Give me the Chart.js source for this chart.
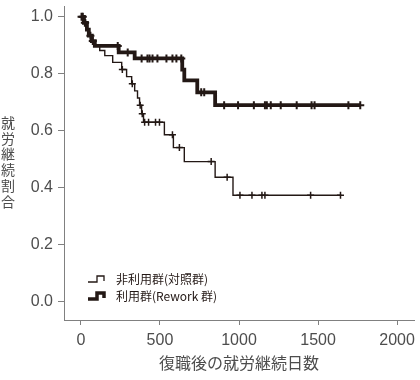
<!DOCTYPE html>
<html><head><meta charset="utf-8">
<script src="https://cdn.jsdelivr.net/npm/chart.js@4.4.1/dist/chart.umd.min.js"></script>
<style>html,body{margin:0;padding:0;background:#fff}#wrap{width:420px;height:380px}</style>
</head><body><div id="wrap"><canvas id="c" width="420" height="380"></canvas></div>
<script>
const xTicks = [0, 500, 1000, 1500, 2000];
const yTicks = [0, 0.2, 0.4, 0.6, 0.8, 1.0];
const seriesLabels = ['非利用群(対照群)', '利用群(Rework 群)'];
const xTitle = '復職後の就労継続日数';
const yTitle = '就労継続割合';

// Control (non-user) group: step points (day, survival after that day)
const controlDays = [0, 19, 38, 50, 69, 88, 119, 151, 201, 258, 289, 321, 340, 358, 371, 384, 396, 528, 585, 654, 849, 962, 1648];
const controlSurv = [1.0, 0.979, 0.955, 0.934, 0.915, 0.898, 0.882, 0.864, 0.84, 0.815, 0.79, 0.765, 0.74, 0.715, 0.69, 0.66, 0.63, 0.586, 0.541, 0.492, 0.437, 0.374, 0.374];
const controlCensorDays = [8, 30, 262, 325, 375, 388, 403, 428, 472, 497, 579, 623, 824, 925, 1006, 1082, 1145, 1164, 1453, 1642];
const controlCensorSurv = [1.0, 0.979, 0.815, 0.765, 0.69, 0.66, 0.63, 0.63, 0.63, 0.63, 0.586, 0.541, 0.492, 0.437, 0.374, 0.374, 0.374, 0.374, 0.374, 0.374];

// Rework (user) group
const reworkDays = [0, 19, 38, 50, 69, 88, 239, 340, 641, 654, 736, 849, 1767];
const reworkSurv = [1.0, 0.979, 0.955, 0.934, 0.915, 0.898, 0.875, 0.854, 0.815, 0.777, 0.735, 0.69, 0.69];
const reworkCensorDays = [4, 12, 25, 60, 75, 233, 296, 384, 421, 434, 453, 484, 541, 579, 604, 635, 761, 780, 906, 994, 1094, 1164, 1176, 1201, 1264, 1365, 1459, 1478, 1692, 1767];
const reworkCensorSurv = [1.0, 1.0, 0.979, 0.934, 0.915, 0.898, 0.875, 0.854, 0.854, 0.854, 0.854, 0.854, 0.854, 0.854, 0.854, 0.854, 0.735, 0.735, 0.69, 0.69, 0.69, 0.69, 0.69, 0.69, 0.69, 0.69, 0.69, 0.69, 0.69, 0.69];

const INK = '#231815';
const GREY = '#4d4d4d';
const AXIS = '#808080';

const pts = (xs, ys) => xs.map((x, i) => ({x: x, y: ys[i]}));

const legendPlugin = {
  id: 'kmLegend',
  afterDraw(chart) {
    const ctx = chart.ctx;
    ctx.save();
    const rows = [{y: 279, w: 1.3, label: chart.data.datasets[0].label},
                  {y: 296, w: 3.5, label: chart.data.datasets[1].label}];
    rows.forEach(r => {
      ctx.strokeStyle = INK; ctx.lineWidth = r.w; ctx.lineJoin = 'miter'; ctx.lineCap = 'butt';
      ctx.beginPath();
      ctx.moveTo(88, r.y + 3); ctx.lineTo(97, r.y + 3); ctx.lineTo(97, r.y - 3);
      ctx.lineTo(104, r.y - 3); ctx.lineTo(104, r.y + 2);
      ctx.stroke();
      ctx.fillStyle = INK; ctx.font = '12px "Noto Sans CJK JP"';
      ctx.textBaseline = 'middle'; ctx.textAlign = 'left';
      ctx.fillText(r.label, 116, r.y);
    });
    // vertical y title, upright stacked characters
    const ca = chart.chartArea;
    const chars = Array.from(yTitle);
    const step = 15.7;
    const cy = (ca.top + ca.bottom) / 2 - 1;
    ctx.fillStyle = GREY; ctx.font = '14px "Noto Sans CJK JP"';
    ctx.textAlign = 'center'; ctx.textBaseline = 'middle';
    chars.forEach((ch, i) => ctx.fillText(ch, 8, cy + (i - (chars.length - 1) / 2) * step));
    ctx.restore();
  }
};

new Chart(document.getElementById('c'), {
  type: 'scatter',
  data: {
    datasets: [
      {label: seriesLabels[0], data: pts(controlDays, controlSurv), showLine: true, stepped: 'before',
       borderColor: INK, borderWidth: 1.4, pointRadius: 0, fill: false, order: 4},
      {label: seriesLabels[1], data: pts(reworkDays, reworkSurv), showLine: true, stepped: 'before',
       borderColor: INK, borderWidth: 3.8, pointRadius: 0, fill: false, order: 3},
      {label: 'c0', data: pts(controlCensorDays, controlCensorSurv), showLine: false, pointStyle: 'cross',
       pointRadius: 3.5, borderColor: INK, borderWidth: 1.5, order: 2},
      {label: 'c1', data: pts(reworkCensorDays, reworkCensorSurv), showLine: false, pointStyle: 'cross',
       pointRadius: 4, borderColor: INK, borderWidth: 2, order: 1}
    ]
  },
  options: {
    responsive: false, devicePixelRatio: 1, animation: false,
    layout: {padding: {left: 31, right: 4, top: 3, bottom: 5}},
    plugins: {legend: {display: false}, tooltip: {enabled: false}},
    scales: {
      x: {
        type: 'linear', min: -107, max: 2107,
        afterBuildTicks: (axis) => { axis.ticks = xTicks.map(v => ({value: v})); },
        afterFit: (s) => { s.height = 55; s.paddingLeft = 0; s.paddingRight = 0; },
        border: {display: true, color: AXIS, width: 1},
        grid: {display: true, drawOnChartArea: false, drawTicks: true, tickLength: 5, color: AXIS},
        ticks: {color: GREY, padding: 6, maxRotation: 0, autoSkip: false,
                font: {family: '"Liberation Sans", Arial', size: 16}, callback: v => String(v)},
        title: {display: true, text: xTitle, color: GREY, padding: {top: 5, bottom: 2},
                font: {family: '"Noto Sans CJK JP"', size: 16}}
      },
      y: {
        type: 'linear', min: -0.064, max: 1.038,
        afterBuildTicks: (axis) => { axis.ticks = yTicks.map(v => ({value: v})); },
        afterFit: (s) => { s.width = 33; s.paddingTop = 0; s.paddingBottom = 0; },
        border: {display: true, color: AXIS, width: 1},
        grid: {display: true, drawOnChartArea: false, drawTicks: true, tickLength: 6, color: AXIS},
        ticks: {color: GREY, padding: 5, autoSkip: false,
                font: {family: '"Liberation Sans", Arial', size: 16}, callback: v => v.toFixed(1)}
      }
    }
  },
  plugins: [legendPlugin]
});
</script></body></html>
